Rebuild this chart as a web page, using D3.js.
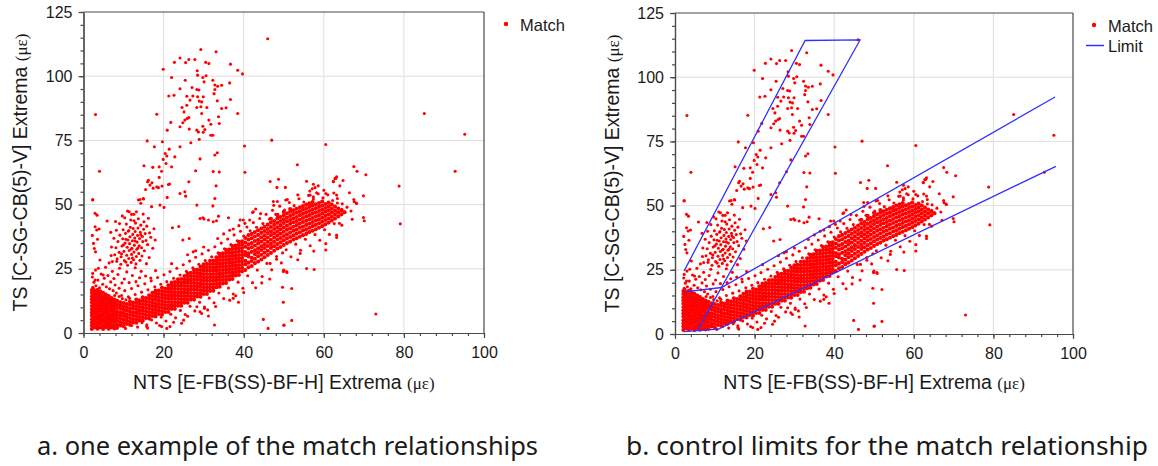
<!DOCTYPE html>
<html><head><meta charset="utf-8">
<script src="https://cdn.jsdelivr.net/npm/d3@7"></script>
<style>
body{margin:0;background:#fff}
svg{display:block}
</style>
</head><body>
<svg id="chart" width="1158" height="466"></svg>
<script>
// ---------------- data ----------------
const xTicks=[0,20,40,60,80,100];
const yTicks=[0,25,50,75,100,125];
const xMinor=[0,4,8,12,16,20,24,28,32,36,40,44,48,52,56,60,64,68,72,76,80,84,88,92,96,100];
const yMinor=[0,5,10,15,20,25,30,35,40,45,50,55,60,65,70,75,80,85,90,95,100,105,110,115,120,125];
const xLabel="NTS [E-FB(SS)-BF-H] Extrema ";
const yLabel="TS [C-SG-CB(5)-V] Extrema ";
const unitLabel="(\u03bc\u03b5)";
const captions=["a. one example of the match relationships","b. control limits for the match relationship"];
const seriesNames=["Match","Limit"];

// Dense part of the Match cloud, read as columns: [x, y, y, ...]
const matchCore=[
[2.1,1.6,2.9,4.1,5.4,6.8,8.0,9.2,10.5,11.9,13.1,14.3,15.6,16.7],
[2.8,2.2,3.5,4.8,6.0,7.4,8.6,9.9,11.1,12.5,13.7,15.0,16.3],
[3.5,1.7,2.9,4.2,5.5,6.7,8.1,9.3,10.6,11.8,13.1,14.4,15.6,16.8],
[4.2,2.2,3.6,4.8,6.1,7.3,8.7,9.9,11.2,12.4,13.8,15.0,16.2],
[4.9,1.6,2.9,4.3,5.4,6.8,8.0,9.3,10.6,11.8,13.1,14.3,15.7],
[5.6,2.3,3.5,4.8,6.1,7.4,8.6,9.9,11.2,12.5,13.7,15.0],
[6.3,1.7,3.0,4.2,5.5,6.7,8.0,9.3,10.5,11.9,13.1,14.4],
[7.0,2.2,3.5,4.9,6.1,7.3,8.7,9.9,11.2,12.4,13.6],
[7.7,1.8,3.0,4.3,5.4,6.7,8.0,9.3,10.6,11.8,13.0],
[8.4,2.0,3.3,4.7,5.9,7.2,8.4,9.8,11.1,12.5],
[9.2,2.9,4.1,5.5,6.8,8.1,9.5,10.7,12.0],
[10.0,2.6,3.9,5.2,6.6,7.8,9.1,10.4,11.7],
[10.8,3.5,4.8,6.1,7.3,8.7,10.0,11.3],
[11.6,3.2,4.5,5.8,7.1,8.4,9.6,11.0,12.2],
[12.4,4.1,5.4,6.7,8.0,9.4,10.6,11.9],
[13.2,4.0,5.3,6.6,7.9,9.2,10.5,11.8,13.0],
[14.0,4.9,6.2,7.5,8.8,10.1,11.4,12.7],
[14.8,4.8,6.1,7.4,8.7,10.0,11.3,12.6,13.9],
[15.6,5.8,7.1,8.4,9.7,11.0,12.3,13.6],
[16.4,5.6,6.9,8.2,9.5,10.8,12.1,13.4,14.7],
[17.2,6.6,7.9,9.2,10.5,11.8,13.1,14.4,15.7],
[18.0,6.4,7.7,9.0,10.3,11.6,12.9,14.2,15.5,16.5],
[18.8,7.4,8.7,10.0,11.3,12.6,13.9,15.2,16.5],
[19.6,7.2,8.5,9.8,11.1,12.4,13.7,15.0,16.3,17.6],
[20.4,8.2,9.5,10.8,12.1,13.4,14.7,16.0,17.3],
[21.2,8.2,9.5,10.8,12.1,13.4,14.7,16.0,17.3,18.6],
[22.0,9.4,10.7,12.0,13.3,14.6,15.9,17.2,18.5,19.6],
[22.8,9.4,10.7,12.0,13.3,14.6,15.9,17.2,18.5,19.8],
[23.6,10.6,11.9,13.2,14.5,15.8,17.1,18.4,19.7,20.9],
[24.4,10.6,11.9,13.2,14.5,15.8,17.1,18.4,19.7,21.0],
[25.2,11.8,13.1,14.4,15.7,17.0,18.3,19.6,20.9,22.2],
[26.0,11.8,13.1,14.4,15.7,17.0,18.3,19.6,20.9,22.2,23.2],
[26.8,13.0,14.3,15.6,16.9,18.2,19.5,20.8,22.1,23.4],
[27.6,13.0,14.3,15.6,16.9,18.2,19.5,20.8,22.1,23.4,24.6],
[28.4,14.2,15.5,16.8,18.1,19.4,20.7,22.0,23.3,24.6],
[29.2,14.1,15.4,16.7,18.0,19.3,20.6,21.9,23.2,24.5,25.8],
[30.0,15.2,16.5,17.8,19.1,20.4,21.7,23.0,24.3,25.6,26.8],
[30.8,15.2,16.5,17.8,19.1,20.4,21.7,23.0,24.3,25.6,26.9],
[31.6,16.4,17.7,19.0,20.3,21.6,22.9,24.2,25.5,26.8,28.1],
[32.4,16.5,17.8,19.1,20.4,21.7,23.0,24.3,25.6,26.9,28.2],
[33.2,17.8,19.1,20.4,21.7,23.0,24.3,25.6,26.9,28.2,29.5],
[34.0,18.0,19.3,20.6,21.9,23.2,24.5,25.8,27.1,28.4,29.7,30.8],
[34.8,19.3,20.6,21.9,23.2,24.5,25.8,27.1,28.4,29.7,31.0],
[35.6,19.5,20.8,22.1,23.4,24.7,26.0,27.3,28.6,29.9,31.2,32.4],
[36.4,20.8,22.1,23.4,24.7,26.0,27.3,28.6,29.9,31.2,32.5],
[37.2,21.0,22.3,23.6,24.9,26.2,27.5,28.8,30.1,31.4,32.7,33.9],
[38.0,22.4,23.7,25.0,26.3,27.6,28.9,30.2,31.5,32.8,34.1],
[38.8,22.6,23.9,25.2,26.5,27.8,29.1,30.4,31.7,33.0,34.3,35.5],
[39.6,24.0,25.3,26.6,27.9,29.2,30.5,31.8,33.1,34.4,35.7],
[40.4,24.5,26.8,28.1,30.3,31.5,33.6,35.2,37.0],
[41.2,25.6,27.4,29.8,31.0,32.9,34.5,36.4,38.1],
[42.0,26.1,28.0,29.3,31.6,33.4,35.0,36.9,38.6],
[42.8,27.2,28.9,30.7,32.2,34.1,35.8,37.6,39.3],
[43.6,27.8,29.9,31.4,33.0,34.9,36.3,38.2,40.0],
[44.4,28.6,30.5,32.3,33.8,35.6,37.3,39.0,40.7],
[45.2,29.5,31.3,33.1,34.6,36.4,38.0,39.7,41.4],
[46.0,30.4,32.0,33.9,35.5,37.2,38.9,40.5,42.2],
[46.8,31.2,33.1,34.7,36.3,38.1,39.6,41.3,43.0,44.5],
[47.6,32.0,33.8,35.5,37.2,38.8,40.5,42.1,43.6],
[48.4,32.9,34.6,36.4,38.0,39.6,41.2,42.9,44.6,46.0],
[49.2,33.5,35.3,37.0,38.7,40.4,42.0,43.6,45.2],
[50.0,34.3,36.1,37.8,39.4,41.1,42.8,44.3,45.9,47.2],
[50.8,35.0,36.8,38.4,40.2,41.8,43.5,45.0,46.6],
[51.6,35.6,37.4,39.1,40.8,42.5,44.0,45.6,47.2,48.3],
[52.4,36.4,38.0,39.8,41.4,43.1,44.7,46.3,47.8],
[53.2,36.9,38.7,40.3,42.0,43.6,45.2,46.8,48.4],
[54.0,37.5,39.2,41.0,42.6,44.2,45.9,47.4,48.9],
[54.8,38.1,39.9,41.5,43.2,44.8,46.4,48.0,49.4],
[55.6,38.6,40.4,42.1,43.7,45.4,47.0,48.5,50.0],
[56.4,39.3,41.0,42.6,44.3,45.9,47.5,49.1,50.5],
[57.2,39.8,41.6,43.2,44.8,46.5,48.0,49.6,51.0],
[58.0,40.4,42.1,43.8,45.4,47.0,48.6,50.1],
[58.8,41.0,42.7,44.3,45.9,47.5,49.1,50.6],
[59.6,41.6,43.3,44.9,46.5,48.0,49.6,51.2],
[60.4,42.3,44.0,45.6,47.2,48.7,50.2],
[61.2,43.0,44.6,46.2,47.8,49.3,50.8],
[62.0,43.8,45.3,46.9,48.4,50.0],
[62.8,44.6,46.1,47.6,49.2],
[63.6,45.4,47.0,48.5],
[64.4,46.2,47.7],
[65.2,47.0]
];

// Sparser Match points, read one by one: [x, y]
const matchScatter=[
// upper branch
[29.3,110.4],[33.1,109.5],[19.9,102.7],[22.7,105.4],[24.1,107.1],[25.5,105.3],[26.3,106.5],[27.8,106.5],[30.5,105.4],[31.3,104.9],
[36.7,104.7],[38.5,102.3],[39.7,100.9],[22.0,99.5],[25.4,98.4],[28.4,102.1],[28.5,100.4],[29.8,99.5],[30.1,97.8],[30.6,100.2],
[32.3,98.4],[32.8,96.6],[33.5,96.1],[34.5,96.5],[36.5,97.4],[24.1,95.1],[27.1,95.6],[28.3,94.8],[28.8,94.6],[32.8,94.8],
[21.3,92.3],[22.6,92.6],[25.8,92.2],[27.3,92.3],[28.5,92.0],[29.9,92.0],[32.6,93.2],[33.4,90.4],[36.7,90.9],[26.6,90.7],
[28.9,90.3],[29.5,90.0],[24.6,87.8],[25.8,88.7],[28.3,87.8],[29.3,88.1],[30.8,87.8],[34.5,87.4],[35.6,87.7],[18.3,85.2],
[38.5,85.5],[25.1,86.1],[25.9,83.5],[25.3,82.9],[26.3,83.9],[29.5,85.5],[31.3,82.9],[33.7,84.2],[33.9,81.6],[21.8,82.0],
[24.1,80.3],[24.8,81.9],[26.4,79.4],[28.3,79.0],[29.8,80.5],[30.3,79.2],[31.8,81.3],[28.7,78.3],[29.9,78.2],[31.8,77.0],
[32.3,77.0],[20.9,79.0],[19.7,74.5],[15.9,74.8],[17.7,72.5],[24.1,72.5],[26.8,74.1],[28.9,75.4],[20.4,69.9],[20.8,68.9],
[19.9,67.6],[21.4,71.6],[22.8,68.6],[20.6,66.0],[22.0,64.7],[29.1,67.8],[32.8,69.3],[33.4,70.2],[15.1,65.1],[17.3,64.5],
[18.9,64.7],[19.5,63.0],[28.0,63.2],[32.4,62.9],[33.9,62.7],[16.0,58.9],[16.2,59.5],[17.1,58.5],[18.9,60.6],[21.2,57.8],
[26.3,58.9],[33.1,57.3],[15.5,55.9],[17.4,56.4],[18.7,56.6],[19.6,57.2],[25.3,55.0],[25.5,53.3],[20.9,52.8],[15.0,52.2],
[14.1,52.0],[16.6,57.6],[18.3,56.9],[21.5,58.0],[24.1,54.3],[28.3,49.8],[32.8,52.4],[13.7,51.8],[14.9,52.4],[14.3,50.5],
[17.0,49.2],[19.1,49.8],[20.1,48.9],[11.4,47.2],[12.6,46.2],
// left edge column
[2.3,52.0],[2.9,46.6],[3.4,45.9],[2.3,51.8],[5.9,43.6],[3.3,40.1],[3.9,40.5],[2.9,41.4],[2.5,34.9],[2.7,32.9],
[3.0,31.6],[4.1,28.4],[2.3,23.2],[2.9,20.6],[3.7,25.2],[4.9,22.6],[2.5,17.4],[3.0,85.1],[4.0,63.0],[2.2,38.0],[3.5,36.5],
// middle scattered
[22.2,41.0],[23.8,41.5],[29.1,44.6],[30.1,44.4],[31.2,44.0],[32.4,43.3],[26.4,36.8],[27.4,31.6],[24.8,36.2],[33.7,45.5],
[42.2,46.9],[39.1,44.0],[37.4,40.5],[32.3,49.5],[29.8,44.9],[33.2,43.7],[36.2,44.9],[39.9,44.0],[40.3,42.7],[42.4,47.2],
[47.4,51.2],[48.4,51.2],[50.9,52.0],[48.5,45.6],[56.6,53.7],[57.4,53.0],[58.2,54.6],[60.5,54.3],[63.2,53.7],[63.4,52.4],
[64.5,48.2],[65.1,47.2],[63.9,42.7],[64.5,42.0],[63.2,38.1],[63.2,37.2],[60.5,32.3],[67.1,44.3],[67.6,51.1],[68.2,50.4],
[46.6,27.1],[48.2,28.7],[49.7,31.2],[50.7,23.9],[49.9,23.9],[55.7,25.1],[54.1,31.0],[55.7,39.0],[47.0,33.6],
// above blob / lower connection
[2.3,17.8],[3.1,18.4],[4.0,17.6],[4.8,19.0],[5.7,18.0],[6.5,17.2],[7.4,16.5],[8.2,15.6],[2.6,19.8],[3.6,20.6],
[5.2,21.3],[6.8,19.9],[7.9,18.7],[8.9,17.4],[9.6,19.5],[2.2,21.8],[4.4,23.0],[6.1,22.4],[7.6,21.2],[8.6,22.8],
[10.2,21.0],[11.4,19.6],[3.0,24.5],[5.5,25.6],[7.2,24.0],[9.0,25.2],[10.8,23.8],[12.2,22.4],[13.1,20.0],[6.4,27.3],
[8.3,27.9],[12.9,25.4],[14.4,24.0],[15.5,22.2],[16.8,21.4],[8.9,14.2],[9.7,13.4],[10.6,12.9],[7.8,14.6],[11.5,13.5],
// upper-left cluster
[7.2,27.8],[7.8,30.5],[8.1,33.2],[8.4,28.9],[8.6,35.6],[8.9,31.4],[9.1,38.1],[9.3,26.8],[9.4,29.7],[9.6,33.9],
[9.8,36.7],[9.9,40.2],[10.1,31.8],[10.2,28.2],[10.4,35.0],[10.5,38.8],[10.7,42.4],[10.8,30.3],[10.9,33.4],[11.0,26.4],
[11.1,36.2],[11.2,39.6],[11.3,29.0],[11.4,32.1],[11.5,34.8],[11.6,37.5],[11.7,41.2],[11.8,44.0],[11.9,27.5],[12.0,30.6],
[12.1,33.0],[12.2,35.9],[12.3,38.4],[12.4,40.7],[12.5,28.5],[12.6,31.5],[12.7,34.2],[12.8,37.0],[12.9,39.5],[13.0,42.8],
[13.1,26.9],[13.2,29.8],[13.3,32.6],[13.4,35.4],[13.5,38.0],[13.6,40.9],[13.7,44.5],[13.8,31.0],[13.9,34.0],[14.0,36.8],
[14.1,28.3],[14.2,39.2],[14.3,42.0],[14.5,33.2],[14.6,30.0],[14.7,37.6],[14.8,35.6],[15.0,40.4],[15.1,43.3],[15.2,32.0],
[15.4,38.7],[15.6,36.0],[15.8,41.6],[16.0,34.4],[16.2,44.7],[16.5,39.0],[16.8,37.3],[9.0,42.6],[8.2,40.0],[7.6,36.9],
[10.3,44.9],[12.0,46.2],[13.2,47.2],[14.9,46.3],[11.0,47.5],[9.7,45.6],[12.6,43.7],[10.6,36.5],[11.9,32.7],[12.9,35.8],
[11.3,39.9],[10.0,34.3],[13.6,33.1],[14.3,38.2],[12.2,29.2],[10.6,27.6],[9.5,30.8],[7.0,33.5],[6.8,39.2],[17.3,33.0],
[17.6,40.6],[16.4,29.4],[15.7,27.0],[8.0,43.4],[6.9,30.2],[17.9,36.2],
// band fringe above
[9.5,14.6],[10.3,16.5],[11.2,14.1],[12.0,17.3],[12.9,15.0],[13.6,18.4],[14.5,15.9],[15.3,19.2],[16.1,16.8],[16.9,20.3],
[17.8,18.0],[18.5,21.6],[19.3,19.0],[20.1,22.7],[20.8,20.0],[21.6,23.9],[22.5,21.3],[23.3,25.2],[24.1,22.6],[24.9,26.6],
[25.7,24.0],[26.5,28.0],[27.3,25.4],[28.0,29.5],[28.8,26.8],[29.6,30.8],[30.4,28.2],[31.2,32.2],[32.0,29.7],[32.8,33.6],
[33.6,31.2],[34.4,35.0],[35.2,32.8],[36.0,36.6],[36.8,34.4],[37.6,38.2],[38.4,35.9],[39.2,39.6],[40.0,37.8],[40.8,41.3],
[41.6,39.8],[42.4,43.0],[43.2,41.2],[44.0,44.6],[44.8,42.6],[45.6,46.2],[46.4,44.4],[47.2,47.8],[48.0,46.2],[49.0,49.4],
[50.2,47.9],[51.4,50.8],[52.6,49.6],[53.8,52.3],[55.0,51.0],[56.2,53.6],[57.4,52.2],[58.6,54.2],[59.8,52.6],[61.0,53.8],
[62.2,51.6],[63.4,50.6],[64.6,50.3],[65.8,49.0],[66.8,47.5],
[14.0,21.5],[18.0,24.3],[22.0,27.0],[26.0,30.5],[30.0,33.5],[33.5,36.8],[36.5,40.0],[38.8,41.8],[41.5,44.0],[44.2,46.5],
[47.5,49.7],[50.5,51.8],[53.5,53.8],[56.5,55.3],[60.0,55.6],[62.5,54.5],[57.8,56.6],[43.0,48.3],[35.0,38.6],[28.0,32.0],
// band fringe below
[10.5,1.8],[12.0,2.9],[13.5,2.3],[14.6,4.0],[15.8,3.2],[17.0,5.1],[18.2,3.9],[19.4,6.2],[20.6,4.7],[21.8,7.3],
[23.0,5.9],[24.2,8.8],[25.4,7.2],[26.6,10.4],[27.8,8.6],[29.0,12.0],[30.2,10.1],[31.4,13.6],[32.6,11.8],[33.8,15.6],
[35.0,13.4],[36.2,17.5],[37.4,15.2],[38.6,19.8],[39.8,17.4],[41.0,22.3],[42.2,19.6],[43.4,24.5],[44.6,22.0],[45.8,27.1],
[47.0,24.6],[48.2,29.8],[49.4,27.3],[50.6,32.4],[51.8,29.7],[53.0,34.6],[54.2,32.2],[55.4,36.5],[56.6,34.0],[57.8,38.3],
[59.0,36.1],[60.2,40.2],[61.4,38.4],[62.6,42.6],
[16.0,1.9],[19.0,2.9],[22.5,4.2],[26.0,6.5],[29.5,7.6],[33.0,10.3],[36.5,12.8],[40.0,15.8],[43.0,17.6],[46.5,21.0],
[50.0,24.5],[53.5,28.5],[57.5,31.9],[60.5,34.8],[25.0,5.0],[31.0,9.0],[38.0,14.5],[44.5,19.5],
// isolated lows
[31.2,6.6],[32.7,3.1],[28.3,10.2],[29.1,8.3],[30.2,9.6],[38.7,12.0],[37.4,13.5],[44.9,5.3],[46.1,1.8],[50.1,3.1],
[49.7,17.8],[52.0,17.3],[49.9,12.0],[50.0,3.0],[52.0,4.9],[49.9,24.2],[50.8,23.6],[57.6,24.7],[19.5,2.5],[20.8,1.8],
[21.6,2.5],[24.5,3.8],[15.8,2.5],[73.0,7.4],
// isolated highs and far right
[46.0,114.6],[85.1,85.5],[95.2,77.4],[92.8,63.0],[78.8,57.2],[79.1,42.5],[69.9,45.0],[70.1,43.7],[67.5,52.0],[68.1,50.6],
[47.0,75.1],[60.5,73.4],[53.4,65.5],[46.6,59.0],[48.3,56.7],[67.5,64.8],[68.3,63.0],[70.5,61.6],[55.7,59.1],[57.4,57.9],
[57.1,56.2],[62.4,58.9],[63.0,60.2],[64.8,59.4],[64.0,57.3],[66.4,54.6],[69.9,53.4],[40.2,72.8],[40.3,62.6],[48.7,59.9],
[50.4,56.7],[58.6,57.3],[62.4,59.1],[62.8,60.2],[63.2,60.8]
];

// Blue control-limit polylines of panel b: [x, y] vertices
const limitUpperBand=[[2.3,24.6],[32.7,114.3],[46.5,114.5],[5.7,1.6]];
const limitMainUpper=[[2.3,16.4],[11.7,18.1],[95.5,92.3]];
const limitMainLower=[[2.3,0.9],[10.9,1.9],[95.7,65.3]];

// ---------------- drawing ----------------
// packed-cloud points are drawn a little larger so the core reads solid, as in the source
const corePoints=matchCore.flatMap(([cx,...ys])=>ys.map(v=>({p:[cx,v],r:2.05})));
const loosePoints=matchScatter.map(p=>({p,r:1.55}));
const matchPoints=corePoints.concat(loosePoints);
const limitLines=[limitUpperBand,limitMainUpper,limitMainLower];

const svg=d3.select("#chart");
const RED="#ff0000", BLUE="#3030ff", AXIS="#4a4a4a", GRID="#dedede", TXT="#1a1a1a";
const FONT="'Liberation Sans', Arial, sans-serif";

const panels=[
  {left:83.5,right:484,top:12,bottom:333,limit:false,caption:captions[0],capX:37,capW:501,legX:506,legY:24},
  {left:675,right:1073,top:13,bottom:334,limit:true,caption:captions[1],capX:626,capW:522,legX:1094,legY:25}
];

panels.forEach(p=>{
  const g=svg.append("g");
  const x=d3.scaleLinear().domain([0,100]).range([p.left,p.right]);
  const y=d3.scaleLinear().domain([0,125]).range([p.bottom,p.top]);

  // grid
  g.append("g").selectAll("line").data(xTicks.filter(d=>d>0&&d<100)).join("line")
    .attr("x1",d=>x(d)).attr("x2",d=>x(d)).attr("y1",p.top).attr("y2",p.bottom)
    .attr("stroke",GRID).attr("stroke-width",1);
  g.append("g").selectAll("line").data(yTicks.filter(d=>d>0&&d<125)).join("line")
    .attr("y1",d=>y(d)).attr("y2",d=>y(d)).attr("x1",p.left).attr("x2",p.right)
    .attr("stroke",GRID).attr("stroke-width",1);

  // points
  g.append("g").selectAll("circle").data(matchPoints).join("circle")
    .attr("cx",d=>x(d.p[0])).attr("cy",d=>y(d.p[1])).attr("r",d=>d.r).attr("fill",RED);

  // limits
  if(p.limit){
    const line=d3.line().x(d=>x(d[0])).y(d=>y(d[1]));
    g.append("g").selectAll("path").data(limitLines).join("path")
      .attr("d",line).attr("fill","none").attr("stroke",BLUE).attr("stroke-width",1.3);
  }

  // frame top/right
  g.append("line").attr("x1",p.left).attr("x2",p.right).attr("y1",p.top).attr("y2",p.top)
    .attr("stroke",AXIS).attr("stroke-width",1.2);
  g.append("line").attr("x1",p.right).attr("x2",p.right).attr("y1",p.top).attr("y2",p.bottom)
    .attr("stroke",AXIS).attr("stroke-width",1.2);

  const style=sel=>{
    sel.selectAll("path,line").attr("stroke",AXIS).attr("stroke-width",1.2);
    sel.selectAll("text").attr("font-family",FONT).attr("font-size",16).attr("fill",TXT);
  };
  // axes (minor then major)
  g.append("g").attr("transform",`translate(0,${p.bottom})`)
    .call(d3.axisBottom(x).tickValues(xMinor).tickSize(3).tickSizeOuter(0).tickFormat("")).call(style);
  g.append("g").attr("transform",`translate(0,${p.bottom})`)
    .call(d3.axisBottom(x).tickValues(xTicks).tickSize(5).tickSizeOuter(0).tickPadding(9)).call(style);
  g.append("g").attr("transform",`translate(${p.left},0)`)
    .call(d3.axisLeft(y).tickValues(yMinor).tickSize(3).tickSizeOuter(0).tickFormat("")).call(style);
  g.append("g").attr("transform",`translate(${p.left},0)`)
    .call(d3.axisLeft(y).tickValues(yTicks).tickSize(5).tickSizeOuter(0).tickPadding(6)).call(style);

  // axis titles
  const xt=g.append("text").attr("x",(p.left+p.right)/2).attr("y",389).attr("text-anchor","middle")
    .attr("font-family",FONT).attr("font-size",19.5).attr("fill",TXT);
  xt.append("tspan").text(xLabel);
  xt.append("tspan").attr("font-family","'Liberation Serif',serif").attr("font-size",17).text(unitLabel);
  const yc=(p.top+p.bottom)/2;
  const yt=g.append("text").attr("transform",`translate(${p.left-56.5},${yc}) rotate(-90)`).attr("text-anchor","middle")
    .attr("font-family",FONT).attr("font-size",19.5).attr("fill",TXT);
  yt.append("tspan").text(yLabel);
  yt.append("tspan").attr("font-family","'Liberation Serif',serif").attr("font-size",17).text(unitLabel);

  // legend
  g.append("circle").attr("cx",p.legX).attr("cy",p.legY).attr("r",2.2).attr("fill",RED);
  g.append("text").attr("x",p.legX+14).attr("y",p.legY+6.5).attr("font-family",FONT).attr("font-size",16.5).attr("fill",TXT).text(seriesNames[0]);
  if(p.limit){
    g.append("line").attr("x1",p.legX-8).attr("x2",p.legX+10).attr("y1",p.legY+20.5).attr("y2",p.legY+20.5)
      .attr("stroke",BLUE).attr("stroke-width",1.5);
    g.append("text").attr("x",p.legX+14).attr("y",p.legY+27).attr("font-family",FONT).attr("font-size",16.5).attr("fill",TXT).text(seriesNames[1]);
  }

  // caption
  g.append("text").attr("x",p.capX).attr("y",455).attr("font-family","'Noto Sans','Open Sans',sans-serif")
    .attr("font-size",25).attr("fill",TXT).attr("textLength",p.capW).attr("lengthAdjust","spacingAndGlyphs").text(p.caption);
});
</script>
</body></html>
